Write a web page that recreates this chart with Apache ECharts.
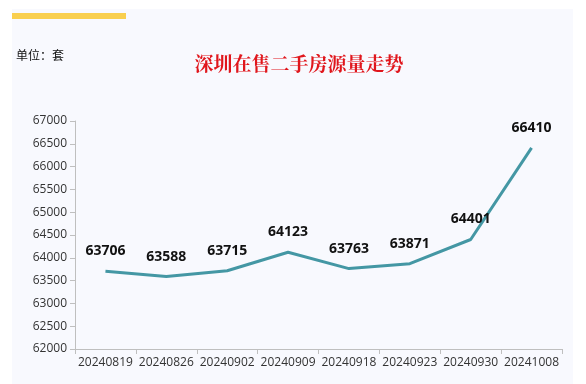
<!DOCTYPE html>
<html>
<head>
<meta charset="utf-8">
<script src="https://cdn.jsdelivr.net/npm/echarts@6/dist/echarts.min.js"></script>
<style>
html,body{margin:0;padding:0;background:#fff;}
#c{width:586px;height:384px;}
</style>
</head>
<body>
<div id="c"></div>
<script>
const categories = ['20240819','20240826','20240902','20240909','20240918','20240923','20240930','20241008'];
const values = [63706, 63588, 63715, 64123, 63763, 63871, 64401, 66410];
const yMin = 62000, yMax = 67000, yStep = 500;
const titleText = '深圳在售二手房源量走势';
const unitText = '单位：套';

const chart = echarts.init(document.getElementById('c'), null, {renderer: 'canvas'});
chart.setOption({
  backgroundColor: '#ffffff',
  animation: false,
  graphic: [
    {type: 'rect', left: 12, top: 9, shape: {width: 561, height: 375}, style: {fill: '#f8f9fe'}, z: -10},
    {type: 'rect', left: 12, top: 13, shape: {width: 114, height: 6}, style: {fill: '#f9cf4f'}, z: -5},
    {type: 'text', left: 16, top: 49, style: {text: unitText, fill: '#111', font: '12px "Noto Sans CJK SC"'}}
  ],
  title: {
    text: titleText, left: 294, top: 49, textAlign: 'center',
    textStyle: {color: '#e0161c', fontSize: 19, fontWeight: 'bold', fontFamily: '"Noto Serif CJK SC","Noto Sans CJK SC"'}
  },
  grid: {left: 75, right: 24, top: 121, bottom: 35},
  xAxis: {
    type: 'category', data: categories, boundaryGap: true,
    axisLine: {lineStyle: {color: '#bfbfbf', width: 1}},
    axisTick: {show: true, length: 5, lineStyle: {color: '#bfbfbf'}},
    axisLabel: {color: '#333', fontSize: 12, fontFamily: 'Open Sans', margin: 8, interval: 0}
  },
  yAxis: {
    type: 'value', min: yMin, max: yMax, interval: yStep,
    axisLine: {show: true, lineStyle: {color: '#bfbfbf', width: 1}},
    axisTick: {show: true, length: 5, lineStyle: {color: '#bfbfbf'}},
    splitLine: {show: false},
    axisLabel: {color: '#333', fontSize: 12, fontFamily: 'Open Sans', margin: 8, formatter: v => String(v)}
  },
  series: [{
    type: 'line', data: values, symbol: 'circle', symbolSize: 2, showSymbol: true,
    itemStyle: {color: 'rgba(0,0,0,0)', borderWidth: 0},
    smooth: false,
    lineStyle: {color: '#4497a4', width: 3},
    label: {show: true, position: 'top', distance: 12, color: '#111', fontSize: 14, fontWeight: 'bold', fontFamily: 'Open Sans'}
  }]
});
</script>
</body>
</html>
